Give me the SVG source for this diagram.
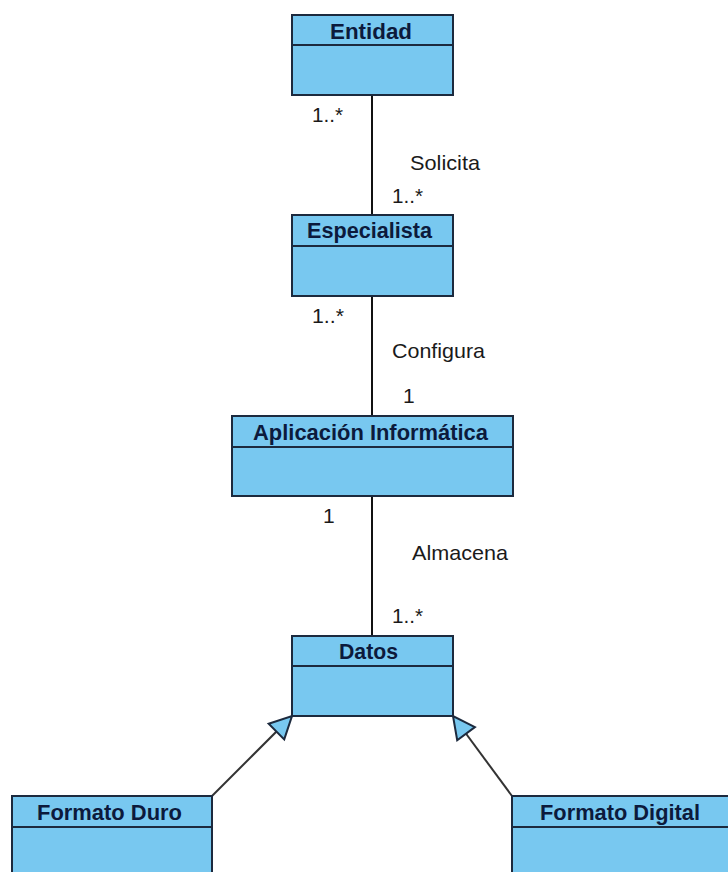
<svg xmlns="http://www.w3.org/2000/svg" width="728" height="872" viewBox="0 0 728 872">
<style>
.box{fill:#78C8F0;stroke:#1c2a3e;stroke-width:2}
.hdr{font-family:"Liberation Sans",Arial,sans-serif;font-weight:bold;font-size:22px;fill:#0c1a3c}
.lbl{font-family:"Liberation Sans",Arial,sans-serif;font-size:21px;fill:#1a1a1a}
.assoc{stroke:#111;stroke-width:2;fill:none}
.gen{stroke:#333;stroke-width:2;fill:none;marker-end:url(#tri)}
</style>
<defs>
<marker id="tri" markerUnits="userSpaceOnUse" markerWidth="26" markerHeight="26" refX="22" refY="11" orient="auto" viewBox="-2 -2 26 26">
<path d="M0,0 L22,11 L0,22 Z" fill="#78C8F0" stroke="#1c2a3e" stroke-width="2"/>
</marker>
</defs>
<rect width="728" height="872" fill="#ffffff"/>
<g id="connectors">
<line class="assoc" x1="372" y1="95" x2="372" y2="215"/>
<line class="assoc" x1="372" y1="296" x2="372" y2="416"/>
<line class="assoc" x1="372" y1="496" x2="372" y2="636"/>
<line class="gen" x1="212" y1="796" x2="292" y2="716"/>
<line class="gen" x1="512" y1="796" x2="453" y2="716"/>
<text class="lbl" x="312" y="122" textLength="31" lengthAdjust="spacingAndGlyphs">1..*</text>
<text class="lbl" x="410" y="170" textLength="70" lengthAdjust="spacingAndGlyphs">Solicita</text>
<text class="lbl" x="392" y="203" textLength="31" lengthAdjust="spacingAndGlyphs">1..*</text>
<text class="lbl" x="312" y="323" textLength="32" lengthAdjust="spacingAndGlyphs">1..*</text>
<text class="lbl" x="392" y="358" textLength="93" lengthAdjust="spacingAndGlyphs">Configura</text>
<text class="lbl" x="403" y="403">1</text>
<text class="lbl" x="323" y="523">1</text>
<text class="lbl" x="412" y="560" textLength="96" lengthAdjust="spacingAndGlyphs">Almacena</text>
<text class="lbl" x="392" y="623" textLength="31" lengthAdjust="spacingAndGlyphs">1..*</text>
</g>
<g id="entidad">
<rect class="box" x="292" y="15" width="161" height="80"/>
<line class="box" x1="292" y1="45" x2="453" y2="45"/>
<text class="hdr" x="330" y="39" textLength="82" lengthAdjust="spacingAndGlyphs">Entidad</text>
</g>
<g id="especialista">
<rect class="box" x="292" y="215" width="161" height="81"/>
<line class="box" x1="292" y1="246" x2="453" y2="246"/>
<text class="hdr" x="307" y="238" textLength="125" lengthAdjust="spacingAndGlyphs">Especialista</text>
</g>
<g id="aplicacion">
<rect class="box" x="232" y="416" width="281" height="80"/>
<line class="box" x1="232" y1="447" x2="513" y2="447"/>
<text class="hdr" x="253" y="440" textLength="235" lengthAdjust="spacingAndGlyphs">Aplicación Informática</text>
</g>
<g id="datos">
<rect class="box" x="292" y="636" width="161" height="80"/>
<line class="box" x1="292" y1="666" x2="453" y2="666"/>
<text class="hdr" x="339" y="659" textLength="59" lengthAdjust="spacingAndGlyphs">Datos</text>
</g>
<g id="formato-duro">
<rect class="box" x="12" y="796" width="200" height="90"/>
<line class="box" x1="12" y1="827" x2="212" y2="827"/>
<text class="hdr" x="37" y="820" textLength="145" lengthAdjust="spacingAndGlyphs">Formato Duro</text>
</g>
<g id="formato-digital">
<rect class="box" x="512" y="796" width="230" height="90"/>
<line class="box" x1="512" y1="827" x2="742" y2="827"/>
<text class="hdr" x="540" y="820" textLength="160" lengthAdjust="spacingAndGlyphs">Formato Digital</text>
</g>
</svg>
